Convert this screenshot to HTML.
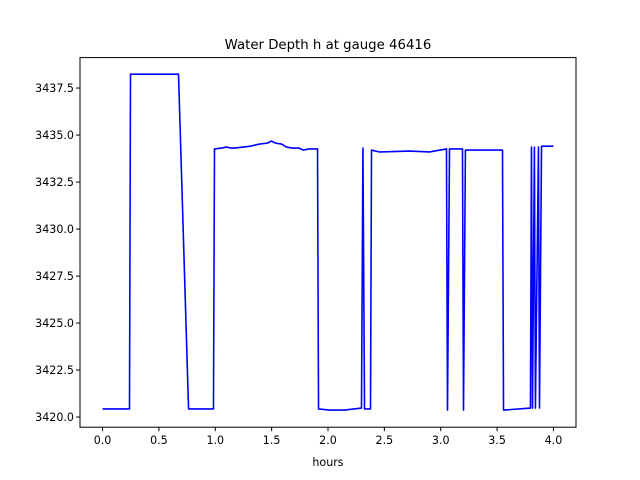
<!DOCTYPE html>
<html><head><meta charset="utf-8"><style>
body{margin:0;background:#fff;font-family:"DejaVu Sans","Liberation Sans",sans-serif;}
svg{display:block}
</style></head><body>
<svg id="chart" width="640" height="480" viewBox="0 0 640 480" xmlns="http://www.w3.org/2000/svg" font-family="DejaVu Sans, Liberation Sans, sans-serif">
<rect width="640" height="480" fill="#fff"/>
<text x="328" y="49" font-size="13.3" text-anchor="middle" fill="#000">Water Depth h at gauge 46416</text>
<g id="plot"></g>
<rect x="80" y="57.6" width="496" height="369.6" fill="none" stroke="#000" stroke-width="1"/>
<text x="328" y="466" font-size="11.1" text-anchor="middle" fill="#000">hours</text>
</svg>
<script>
const hours=[0,0.239,0.248,0.674,0.763,0.984,0.993,1.055,1.100,1.135,1.171,1.313,1.392,1.463,1.499,1.534,1.588,1.632,1.685,1.738,1.783,1.827,1.907,1.916,2.013,2.146,2.297,2.310,2.324,2.377,2.386,2.457,2.723,2.9,3.051,3.06,3.078,3.193,3.202,3.219,3.548,3.557,3.796,3.805,3.814,3.831,3.840,3.867,3.876,3.894,4.0];
const depth=[3420.43,3420.43,3438.24,3438.24,3420.43,3420.43,3434.26,3434.31,3434.36,3434.31,3434.31,3434.41,3434.52,3434.57,3434.68,3434.57,3434.52,3434.36,3434.31,3434.31,3434.2,3434.26,3434.26,3420.43,3420.37,3420.37,3420.48,3434.31,3420.43,3420.43,3434.2,3434.1,3434.15,3434.1,3434.26,3420.37,3434.26,3434.26,3420.37,3434.2,3434.2,3420.37,3420.48,3434.36,3420.48,3434.36,3420.48,3434.36,3420.48,3434.41,3434.41];
const xTicks=[0,0.5,1,1.5,2,2.5,3,3.5,4];
const xTickLabels=["0.0","0.5","1.0","1.5","2.0","2.5","3.0","3.5","4.0"];
const yTicks=[3420,3422.5,3425,3427.5,3430,3432.5,3435,3437.5];
const yTickLabels=["3420.0","3422.5","3425.0","3427.5","3430.0","3432.5","3435.0","3437.5"];
const X0=80,X1=576,Y0=427.2,Y1=57.6,xmin=-0.2,xmax=4.2,ymin=3419.46,ymax=3439.12;
function sx(v){return X0+(v-xmin)/(xmax-xmin)*(X1-X0);}
function sy(v){return Y0-(v-ymin)/(ymax-ymin)*(Y0-Y1);}
const NS="http://www.w3.org/2000/svg";
const g=document.getElementById('plot');
xTicks.forEach((t,i)=>{
  const l=document.createElementNS(NS,'line');
  l.setAttribute('x1',sx(t));l.setAttribute('x2',sx(t));l.setAttribute('y1',Y0);l.setAttribute('y2',Y0+4);l.setAttribute('stroke','#000');
  
  
  g.appendChild(l);
  const tx=document.createElementNS(NS,'text');
  tx.setAttribute('x',sx(t));tx.setAttribute('y',Y0+17);tx.setAttribute('font-size','11.1');tx.setAttribute('text-anchor','middle');
  tx.textContent=xTickLabels[i];
  
  
  g.appendChild(tx);
});
yTicks.forEach((t,i)=>{
  const l=document.createElementNS(NS,'line');
  l.setAttribute('x1',X0-4);l.setAttribute('x2',X0);l.setAttribute('y1',sy(t));l.setAttribute('y2',sy(t));l.setAttribute('stroke','#000');
  
  
  g.appendChild(l);
  const tx=document.createElementNS(NS,'text');
  tx.setAttribute('x',X0-6);tx.setAttribute('y',sy(t)+4);tx.setAttribute('font-size','11.1');tx.setAttribute('text-anchor','end');
  tx.textContent=yTickLabels[i];
  
  
  g.appendChild(tx);
});
const p=document.createElementNS(NS,'polyline');
p.setAttribute('points',hours.map((h,i)=>sx(h).toFixed(2)+','+sy(depth[i]).toFixed(2)).join(' '));
p.setAttribute('fill','none');p.setAttribute('stroke','#0000ff');p.setAttribute('stroke-width','1.6');p.setAttribute('stroke-linejoin','round');


g.appendChild(p);
</script>
</body></html>
